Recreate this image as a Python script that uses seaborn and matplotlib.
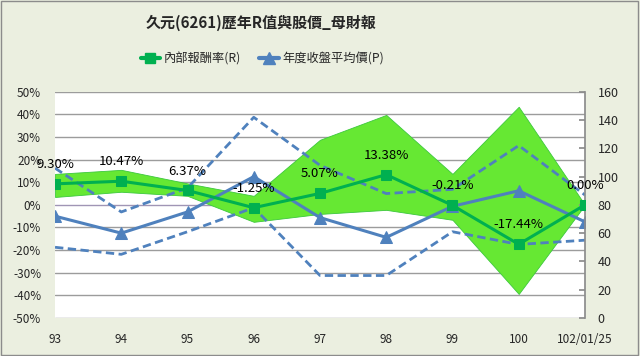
import numpy as np
import pandas as pd
import seaborn as sns
import matplotlib.pyplot as plt
from matplotlib.lines import Line2D
from matplotlib.ticker import FuncFormatter

# 資料
years = ['93', '94', '95', '96', '97', '98', '99', '100', '102/01/25']
r_value = [9.30, 10.47, 6.37, -1.25, 5.07, 13.38, -0.21, -17.44, 0.00]
r_upper = [13.7, 15.5, 9.5, 4.0, 28.8, 39.8, 13.7, 43.4, 0.0]
r_lower = [3.5, 5.8, 4.0, -7.5, -4.0, -2.2, -6.6, -39.4, 0.0]
p_avg = [72, 60, 75, 100, 71, 57, 79, 90, 68]
p_high = [106, 75, 92, 142, 108, 88, 91, 122, 87]
p_low = [50, 45, 61, 78, 30, 30, 61, 52, 55]

df = pd.DataFrame({'x': range(len(years)), 'r': r_value, 'r_hi': r_upper, 'r_lo': r_lower,
                   'p': p_avg, 'p_hi': p_high, 'p_lo': p_low})

sns.set_theme(style='white')
plt.rcParams['font.family'] = ['Noto Sans CJK TC', 'DejaVu Sans']

GREEN = '#00B050'
BAND = '#66E833'
BLUE = '#4F81BD'
BG = '#EBEFE0'

fig = plt.figure(figsize=(6.4, 3.56), dpi=100, facecolor=BG)
ax = fig.add_axes([0.086, 0.107, 0.828, 0.635])
ax.set_facecolor('white')
ax2 = ax.twinx()

# 格線
for v in range(-50, 51, 10):
    ax.axhline(v, color='#9C9C9C' if v != 0 else '#A095B5', lw=1, zorder=0)

# 綠色區間
ax.fill_between(df['x'], df['r_lo'], df['r_hi'], color=BAND, edgecolor='#3CC83C', lw=0.6, zorder=1)

# 股價(右軸)
ax2.set_zorder(ax.get_zorder() + 1)
ax2.patch.set_visible(False)
sns.lineplot(data=df, x='x', y='p_hi', ax=ax2, color=BLUE, lw=2, linestyle=(0, (3, 1.6)))
sns.lineplot(data=df, x='x', y='p_lo', ax=ax2, color=BLUE, lw=2, linestyle=(0, (3, 1.6)))
sns.lineplot(data=df, x='x', y='p', ax=ax2, color=BLUE, lw=2.2, marker='^', markersize=8,
             markeredgecolor=BLUE)

# R值 (左軸 -50~50 對應右軸 0~160)
df['r_on_p'] = 80 + df['r'] * 1.6
sns.lineplot(data=df, x='x', y='r_on_p', ax=ax2, color=GREEN, lw=2.2, marker='s', markersize=7,
             markeredgecolor=GREEN, zorder=5)

for xi, v in zip(df['x'], r_value):
    ax2.annotate(f'{v:.2f}%', (xi, 80 + v * 1.6), xytext=(0, 14), textcoords='offset points',
                 ha='center', va='center', fontsize=9.5, color='black', zorder=6)

ax.set_xlim(0, len(years) - 1)
ax.set_ylim(-50, 50)
ax2.set_ylim(0, 160)
ax.set_yticks(range(-50, 51, 10))
ax.yaxis.set_major_formatter(FuncFormatter(lambda v, p: f'{v:.0f}%'))
ax2.set_yticks(range(0, 161, 20))
ax.set_xticks(df['x'])
ax.set_xticklabels(years)
ax.set_xlabel('')
ax.set_ylabel('')
ax2.set_ylabel('')
ax.tick_params(axis='y', labelsize=8.5, pad=10, length=0)
ax.tick_params(axis='x', labelsize=8.5, pad=11, length=0)
ax2.tick_params(axis='y', labelsize=9, pad=9, length=4, direction='in', color='#8C8C8C')

for s in ['top', 'left', 'bottom']:
    ax.spines[s].set_visible(False)
    ax2.spines[s].set_visible(False)
ax.spines['right'].set_visible(False)
ax2.spines['right'].set_color('#8C8C8C')

fig.text(0.408, 0.935, '久元(6261)歷年R值與股價_母財報', ha='center', va='center',
         fontsize=10.8, fontweight='bold')
handles = [Line2D([], [], color=GREEN, lw=3, marker='s', markersize=7),
           Line2D([], [], color=BLUE, lw=3, marker='^', markersize=8)]
fig.legend(handles, ['內部報酬率(R)', '年度收盤平均價(P)'], loc='center', bbox_to_anchor=(0.41, 0.835),
           ncol=2, frameon=False, fontsize=8.8, handlelength=1.6, columnspacing=1.5, handletextpad=0.3)

fig.patches.append(plt.Rectangle((0.002, 0.003), 0.995, 0.993, transform=fig.transFigure,
                                 fill=False, edgecolor='#8C8C8C', lw=1))
fig.savefig('out.png', dpi=100, facecolor=BG)
